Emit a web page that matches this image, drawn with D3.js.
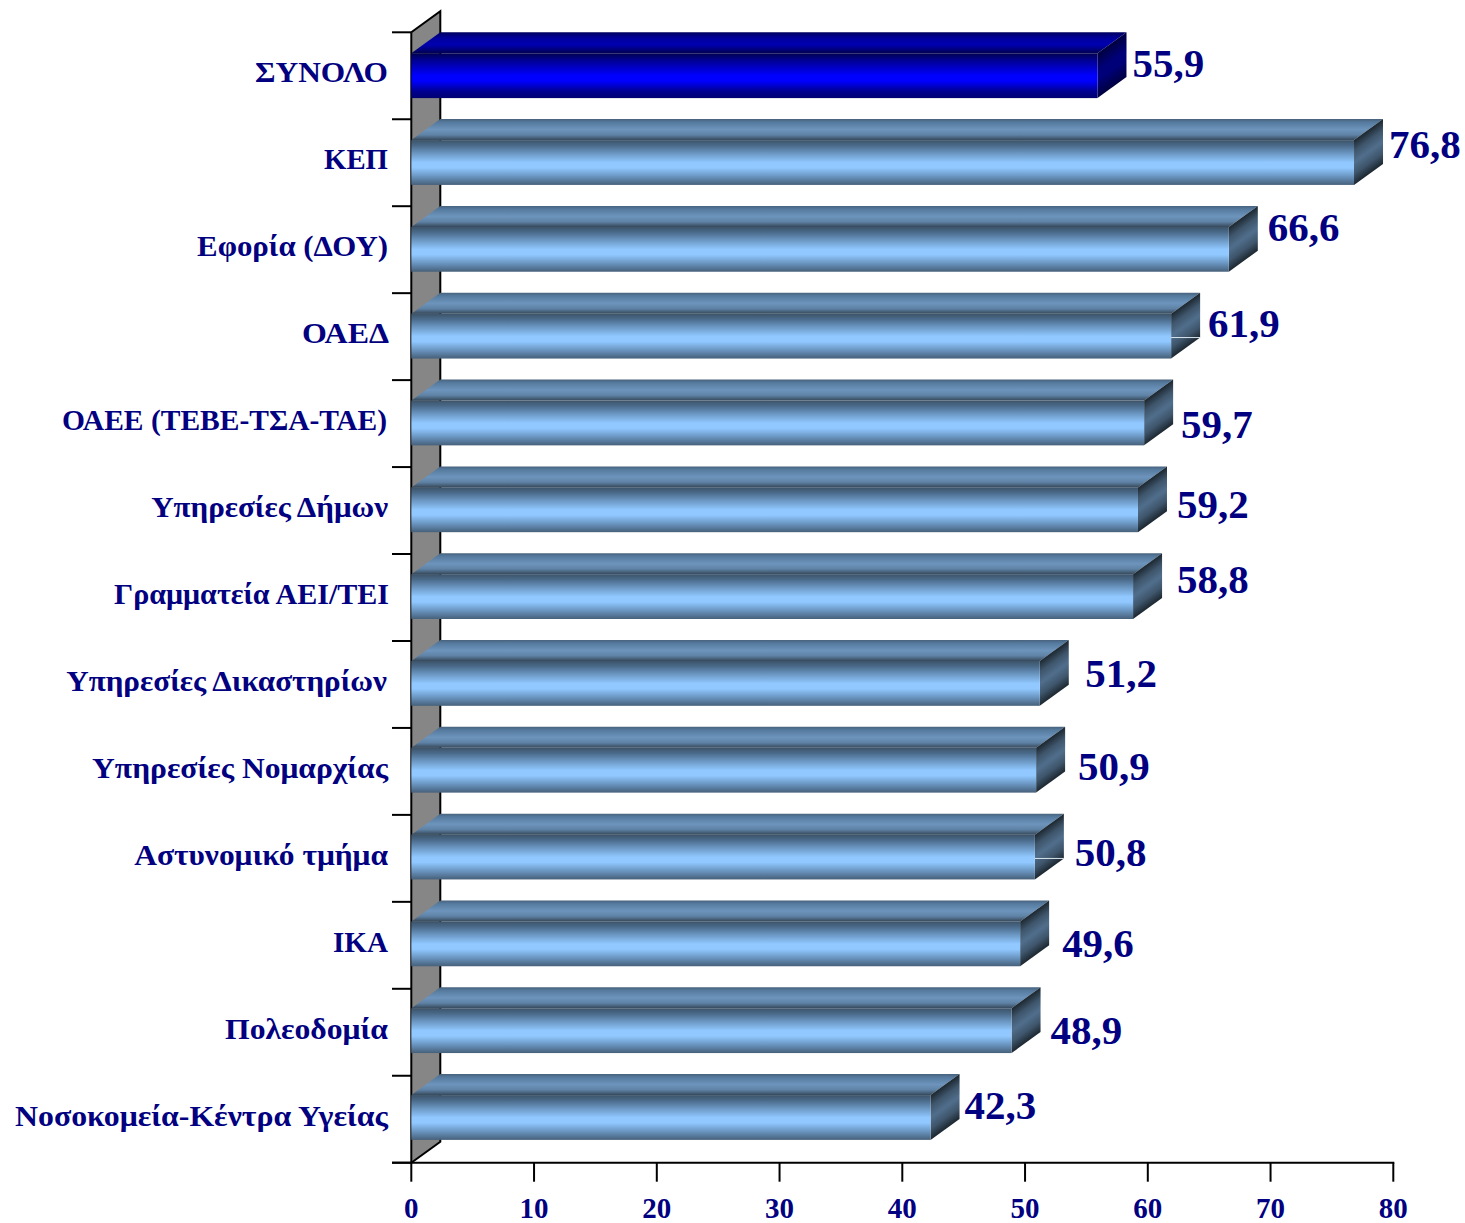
<!DOCTYPE html>
<html><head><meta charset="utf-8">
<style>html,body{margin:0;padding:0;background:#fff}svg{display:block}text{font-family:"Liberation Serif",serif;font-weight:bold;fill:#000080}</style>
<script src="https://d3js.org/d3.v7.min.js"></script>
</head><body><svg id="c" width="1465" height="1223"></svg>
<script>
const categories=["ΣΥΝΟΛΟ","ΚΕΠ","Εφορία (ΔΟΥ)","ΟΑΕΔ","ΟΑΕΕ (ΤΕΒΕ-ΤΣΑ-ΤΑΕ)","Υπηρεσίες Δήμων","Γραμματεία ΑΕΙ/ΤΕΙ","Υπηρεσίες Δικαστηρίων","Υπηρεσίες Νομαρχίας","Αστυνομικό τμήμα","ΙΚΑ","Πολεοδομία","Νοσοκομεία-Κέντρα Υγείας"];
const values=[55.9,76.8,66.6,61.9,59.7,59.2,58.8,51.2,50.9,50.8,49.6,48.9,42.3];
const valueLabels=["55,9","76,8","66,6","61,9","59,7","59,2","58,8","51,2","50,9","50,8","49,6","48,9","42,3"];
const xTicks=[0,10,20,30,40,50,60,70,80];
// layout of hand-placed labels in the reference
const labelNudgeX=[6,6,10,8,8,10,15,16.5,13,11,13,10,5];
const labelBaseY=[77,158,241,337,438,518,593,687,780,866,957,1044,1119];
const catWidths=[133,64,191,87,325,237,275,321,296,254,55,163,373];
const catRight=[388,388,388,389,387,388,389,387,388,388,388,388,388];
const seam=[3,9];

const svg=d3.select("#c"),defs=svg.append("defs");
const xS=d3.scaleLinear().domain([0,80]).range([411.3,1393.3]);
const yS=d3.scaleBand().domain(categories).range([32.3,1162.7]);      // tick positions
const yBar=d3.scaleBand().domain(categories).range([32.3,1160.9]);    // bars sit on a slightly tighter step
const dx=29,dy=21,barH=44.8;

function grad(id,stops){const g=defs.append("linearGradient").attr("id",id).attr("x1",0).attr("y1",0).attr("x2",0).attr("y2",1);
 stops.forEach(s=>g.append("stop").attr("offset",s[0]).attr("stop-color",s[1]));}
grad("fB",[[0,"#3c5368"],[.12,"#4a6a8a"],[.3,"#6c98c4"],[.5,"#90c8ff"],[.62,"#90c8ff"],[.8,"#6c98c4"],[1,"#46607a"]]);
grad("tB",[[0,"#48627c"],[.15,"#557a9e"],[.5,"#6d94bc"],[.75,"#5f83a6"],[1,"#36485a"]]);
grad("sB",[[0,"#1c2730"],[.25,"#3f566c"],[.5,"#506e8c"],[.75,"#3f566c"],[1,"#1c2730"]]);
grad("fD",[[0,"#000050"],[.15,"#000090"],[.5,"#0000ff"],[.62,"#0000ff"],[.85,"#000090"],[1,"#000070"]]);
grad("tD",[[0,"#000060"],[.3,"#0000a0"],[.6,"#0000b0"],[1,"#000050"]]);
grad("sD",[[0,"#000040"],[.4,"#000078"],[.6,"#000078"],[1,"#000040"]]);

// back wall
const yTop=yS.range()[0],yBot=yS.range()[1],x0=xS(0);
svg.append("path").attr("d",`M${x0},${yTop}L${x0+dx},${yTop-dy}V${yBot-dy}L${x0},${yBot}Z`).attr("fill","#868686");
svg.append("path").attr("d",`M${x0},${yTop}L${x0+dx},${yTop-dy}V${yBot-dy}L${x0},${yBot}`).attr("fill","none").attr("stroke","#000").attr("stroke-width",2);

// axes
svg.append("g").selectAll("line").data(d3.range(categories.length+1)).join("line")
 .attr("x1",392).attr("x2",x0).attr("y1",i=>yTop+i*yS.step()).attr("y2",i=>yTop+i*yS.step()).attr("stroke","#000").attr("stroke-width",2);
svg.append("line").attr("x1",x0).attr("x2",x0).attr("y1",yTop).attr("y2",yBot).attr("stroke","#000").attr("stroke-width",2);
const ax=svg.append("g").attr("transform",`translate(0,${yBot})`).call(d3.axisBottom(xS).tickValues(xTicks).tickSize(19).tickSizeOuter(0).tickPadding(16).offset(0));
ax.select(".domain").remove();
svg.append("line").attr("x1",392).attr("x2",xS(80)+1).attr("y1",yBot).attr("y2",yBot).attr("stroke","#000").attr("stroke-width",2);
ax.selectAll(".tick line").attr("stroke","#000").attr("stroke-width",2);
ax.selectAll(".tick text").style("font-size","29px").style("font-family",'"Liberation Serif",serif').style("font-weight","bold").attr("fill","#000080");

// bars
const bars=svg.append("g").selectAll("g").data(values).join("g");
bars.each(function(v,i){
 const g=d3.select(this),k=i===0?"D":"B",t=yBar(categories[i]),xe=xS(v);
 const fy=t+dy;
 g.append("path").attr("d",`M${x0},${fy}L${x0+dx},${t}H${xe+dx}L${xe},${fy}Z`).attr("fill",`url(#t${k})`);
 g.append("rect").attr("x",0).attr("y",0).attr("width",dx).attr("height",barH)
  .attr("transform",`translate(${xe},${fy}) matrix(1,${-dy/dx},0,1,0,0)`).attr("fill",`url(#s${k})`);
 g.append("rect").attr("x",x0).attr("y",fy).attr("width",xe-x0).attr("height",barH).attr("fill",`url(#f${k})`);
 if(seam.includes(i)) g.append("line").attr("x1",xe).attr("x2",xe+dx).attr("y1",fy+barH-21).attr("y2",fy+barH-21).attr("stroke","#d8e4ee").attr("stroke-width",1);
 g.append("text").attr("transform",`translate(${xe+dx+labelNudgeX[i]},${labelBaseY[i]}) scale(1.05,1)`).style("font-size","39px").text(valueLabels[i]);
});
// category labels, each fitted to its width in the reference
svg.append("g").selectAll("text").data(categories).join("text")
 .attr("text-anchor","end").style("font-size","29px").text(d=>d)
 .attr("transform",function(d,i){const w=this.getComputedTextLength();return `translate(${catRight[i]},${yS(d)+50}) scale(${catWidths[i]/w},1)`;});
</script></body></html>
